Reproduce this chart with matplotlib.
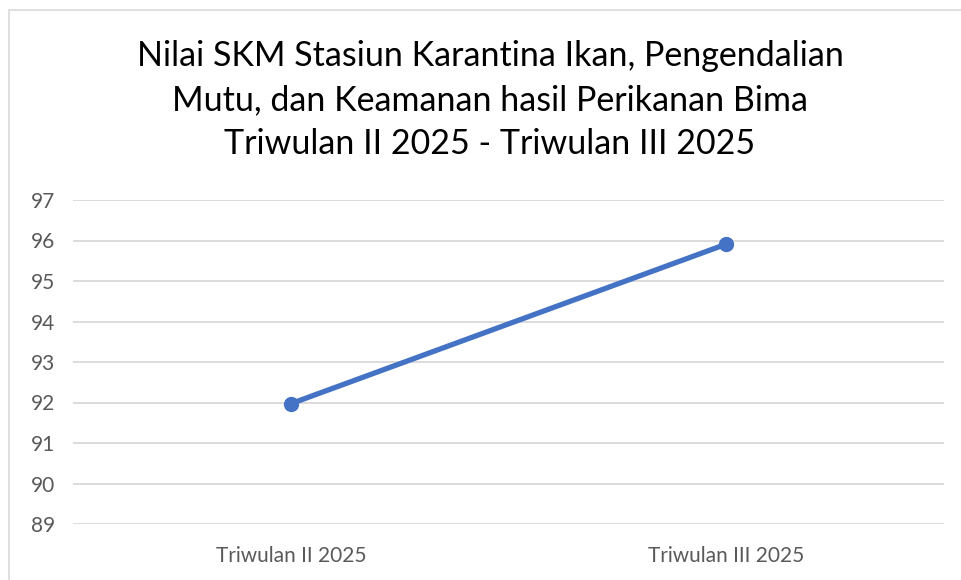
import matplotlib.pyplot as plt
from matplotlib.patches import Rectangle

categories = ['Triwulan II 2025', 'Triwulan III 2025']
values = [91.97, 95.91]
yticks = [89, 90, 91, 92, 93, 94, 95, 96, 97]
title = ('Nilai SKM Stasiun Karantina Ikan, Pengendalian\n'
         'Mutu, dan Keamanan hasil Perikanan Bima\n'
         'Triwulan II 2025 - Triwulan III 2025')

plt.rcParams['font.family'] = ['Lato', 'DejaVu Sans']

fig = plt.figure(figsize=(9.62, 5.8), dpi=100)
W, H = 962, 580

# chart border (only top and left edges are visible in the crop)
fig.patches.append(Rectangle((9 / W, 0 - 0.05), 1.1, 1 - 10 / H + 0.05,
                             transform=fig.transFigure, fill=False,
                             edgecolor='#d9d9d9', linewidth=1.2))

ax = fig.add_axes([73 / W, 1 - 524 / H, (944 - 73) / W, (524 - 200) / H])
x = range(len(categories))
ax.plot(x, values, color='#4472C4', linewidth=3.8, marker='o',
        markersize=10, solid_capstyle='round', zorder=3)

ax.set_xlim(-0.5, len(categories) - 0.5)
ax.set_ylim(89, 97)
ax.set_yticks(yticks)
ax.set_xticks(list(x))
ax.set_xticklabels(categories)
ax.grid(axis='y', color='#d9d9d9', linewidth=1.3)
ax.set_axisbelow(True)
for s in ax.spines.values():
    s.set_visible(False)
ax.tick_params(length=0, colors='#595959', labelsize=15)
ax.tick_params(axis='y', pad=13)
ax.tick_params(axis='x', pad=16)

fig.text(490 / W, 1 - 100 / H, title, ha='center', va='center',
         fontsize=24.5, color='black', linespacing=1.45)

fig.savefig('out.png', dpi=100)
